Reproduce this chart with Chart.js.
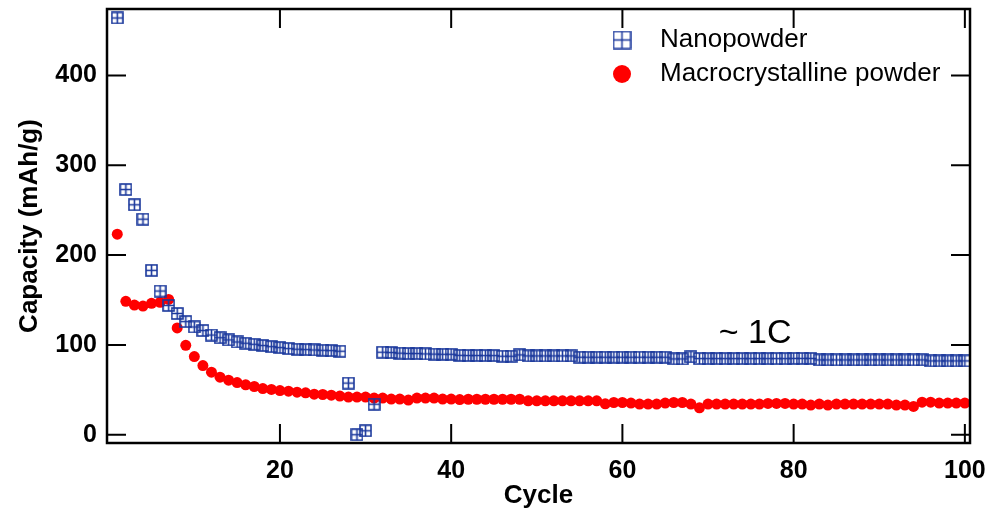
<!DOCTYPE html>
<html>
<head>
<meta charset="utf-8">
<title>Capacity vs cycle</title>
<script src="https://cdn.jsdelivr.net/npm/chart.js@4.4.0/dist/chart.umd.min.js"></script>
<style>
  html, body { margin: 0; padding: 0; background: #fff; }
  #wrap { width: 988px; height: 509px; }
</style>
</head>
<body>
<div id="wrap"><canvas id="capacityChart" width="988" height="509"></canvas></div>
<script>
// cycle number for every measurement
const cycles = [
  1, 2, 3, 4, 5, 6, 7, 8, 9, 10,
  11, 12, 13, 14, 15, 16, 17, 18, 19, 20,
  21, 22, 23, 24, 25, 26, 27, 28, 29, 30,
  31, 32, 33, 34, 35, 36, 37, 38, 39, 40,
  41, 42, 43, 44, 45, 46, 47, 48, 49, 50,
  51, 52, 53, 54, 55, 56, 57, 58, 59, 60,
  61, 62, 63, 64, 65, 66, 67, 68, 69, 70,
  71, 72, 73, 74, 75, 76, 77, 78, 79, 80,
  81, 82, 83, 84, 85, 86, 87, 88, 89, 90,
  91, 92, 93, 94, 95, 96, 97, 98, 99, 100
];

// capacity in mAh/g
const nanopowder = [
  464, 273, 256, 240, 183, 160, 144, 135, 126, 120,
  116, 111, 108, 105.6, 103.3, 101.9, 100.7, 99.3, 98.1, 97,
  95.9, 95.2, 94.8, 94.4, 94, 93.7, 93, 57.5, 0, 4.4,
  34, 91.9, 91.5, 90.8, 90.4, 90.4, 90, 89.8, 89.6, 89.6,
  88.4, 88.2, 88.2, 88.1, 88.1, 87.4, 87.4, 88.9, 87.8, 87.8,
  87.8, 87.8, 87.8, 87.8, 86.3, 86.3, 86.3, 86.3, 86.3, 86.3,
  86.3, 86.3, 86.3, 86.3, 86.3, 84.4, 84.4, 86.7, 84.8, 84.8,
  84.8, 84.8, 84.8, 84.8, 84.8, 84.8, 84.8, 84.8, 84.8, 85,
  85, 85, 83.3, 83.3, 83.3, 83.3, 83.3, 83.3, 83.3, 83.3,
  83.3, 83.3, 83.3, 83.3, 83.3, 82.2, 82.2, 82.2, 82.2, 82.2
];

const macroPowder = [
  223.3, 148.5, 144.4, 143.3, 146.3, 147.4, 150.7, 118.9, 99.6, 87,
  77, 69.7, 64.1, 60.8, 58.1, 55.6, 53.7, 51.4, 50.4, 49.2,
  48.5, 47.4, 46.7, 45.2, 44.8, 44.1, 43, 41.9, 41.9, 41.9,
  40.8, 40.8, 39.7, 39.7, 38.6, 40.8, 40.8, 40.8, 39.7, 39.7,
  39.2, 39.5, 39.5, 39.5, 39.5, 39.5, 39.5, 39.5, 37.8, 37.8,
  37.8, 37.8, 37.8, 37.8, 37.8, 37.8, 37.8, 34.4, 35.9, 35.9,
  35.2, 34.1, 34.1, 34.1, 35.2, 35.9, 35.9, 34.1, 30, 34.1,
  34.1, 34.1, 34.1, 34.1, 34.1, 34.1, 34.8, 34.8, 34.8, 34.1,
  34.1, 33, 34.1, 33, 34.1, 34.1, 34.1, 34.1, 34.1, 34.1,
  34.1, 33, 33, 31.5, 36.3, 36.3, 35.2, 35.2, 35.2, 35.2
];

const cycleTicks = [20, 40, 60, 80, 100];
const capacityTicks = [0, 100, 200, 300, 400];

const BLUE = '#1a379c';
const RED = '#ff0000';
const FONT = "'Liberation Sans', Arial, sans-serif";

// square with a cross through it, used as the nanopowder marker
function gridSquare(size, color, lw) {
  const c = document.createElement('canvas');
  c.width = size + 2;
  c.height = size + 2;
  const g = c.getContext('2d');
  g.strokeStyle = color;
  g.lineWidth = lw;
  g.strokeRect(1, 1, size, size);
  g.beginPath();
  g.moveTo(1 + size / 2, 1); g.lineTo(1 + size / 2, 1 + size);
  g.moveTo(1, 1 + size / 2); g.lineTo(1 + size, 1 + size / 2);
  g.stroke();
  return c;
}

const squareMark = gridSquare(11, BLUE, 1.6);
const legendSquare = gridSquare(17, BLUE, 1.5);

// frame with inward ticks, legend and the rate note
const frameAndNotes = {
  id: 'frameAndNotes',
  afterDatasetsDraw(chart) {
    const { ctx, chartArea: a, scales: { x, y } } = chart;
    ctx.save();
    ctx.strokeStyle = '#000';
    ctx.lineWidth = 2;
    ctx.beginPath();
    capacityTicks.forEach(v => {
      const py = y.getPixelForValue(v);
      ctx.moveTo(a.left, py); ctx.lineTo(a.left + 19, py);
      ctx.moveTo(a.right, py); ctx.lineTo(a.right - 19, py);
    });
    cycleTicks.forEach(v => {
      const px = x.getPixelForValue(v);
      ctx.moveTo(px, a.bottom); ctx.lineTo(px, a.bottom - 19);
      ctx.moveTo(px, a.top); ctx.lineTo(px, a.top + 19);
    });
    ctx.stroke();
    ctx.lineWidth = 2.5;
    ctx.strokeRect(a.left, a.top, a.right - a.left, a.bottom - a.top);

    // legend
    const mx = a.right - 348;
    const tx = a.right - 310;
    ctx.drawImage(legendSquare, mx - legendSquare.width / 2, a.top + 31 - legendSquare.height / 2);
    ctx.fillStyle = RED;
    ctx.beginPath();
    ctx.arc(mx, a.top + 65, 9, 0, Math.PI * 2);
    ctx.fill();
    ctx.fillStyle = '#000';
    ctx.font = '26px ' + FONT;
    ctx.textBaseline = 'middle';
    ctx.textAlign = 'left';
    ctx.fillText('Nanopowder', tx, a.top + 31);
    ctx.fillText('Macrocrystalline powder', tx, a.top + 65);

    // rate note
    ctx.font = '34px ' + FONT;
    ctx.textAlign = 'center';
    ctx.fillText('~ 1C', x.getPixelForValue(75.5), y.getPixelForValue(113));
    ctx.restore();
  }
};

new Chart(document.getElementById('capacityChart'), {
  type: 'scatter',
  data: {
    datasets: [
      {
        label: 'Nanopowder',
        data: cycles.map((c, i) => ({ x: c, y: nanopowder[i] })),
        pointStyle: squareMark,
        pointRadius: 6,
        clip: false
      },
      {
        label: 'Macrocrystalline powder',
        data: cycles.map((c, i) => ({ x: c, y: macroPowder[i] })),
        pointStyle: 'circle',
        pointRadius: 5.5,
        borderWidth: 0,
        backgroundColor: RED,
        borderColor: RED,
        clip: false
      }
    ]
  },
  options: {
    responsive: false,
    animation: false,
    layout: { padding: { left: 0, right: 18, top: 9, bottom: 0 } },
    plugins: {
      legend: { display: false },
      tooltip: { enabled: false }
    },
    scales: {
      x: {
        type: 'linear',
        min: -0.2,
        max: 100.6,
        grid: { display: false, drawTicks: false },
        border: { display: false },
        afterBuildTicks: s => { s.ticks = cycleTicks.map(v => ({ value: v })); },
        afterFit: s => { s.height = 66; s.paddingLeft = 0; s.paddingRight = 0; },
        ticks: {
          autoSkip: false,
          maxRotation: 0,
          padding: 13,
          color: '#000',
          font: { family: FONT, size: 25, weight: 'bold' }
        },
        title: {
          display: true,
          text: 'Cycle',
          color: '#000',
          padding: { top: 0, bottom: -2 },
          font: { family: FONT, size: 26, weight: 'bold' }
        }
      },
      y: {
        min: -9.2,
        max: 474,
        grid: { display: false, drawTicks: false },
        border: { display: false },
        afterBuildTicks: s => { s.ticks = capacityTicks.map(v => ({ value: v })); },
        afterFit: s => { s.width = 107; s.paddingTop = 0; s.paddingBottom = 0; },
        ticks: {
          autoSkip: false,
          padding: 10,
          color: '#000',
          font: { family: FONT, size: 25, weight: 'bold' }
        },
        title: {
          display: true,
          text: 'Capacity (mAh/g)',
          color: '#000',
          padding: { top: 14, bottom: 0 },
          font: { family: FONT, size: 26, weight: 'bold' }
        }
      }
    }
  },
  plugins: [frameAndNotes]
});
</script>
</body>
</html>
